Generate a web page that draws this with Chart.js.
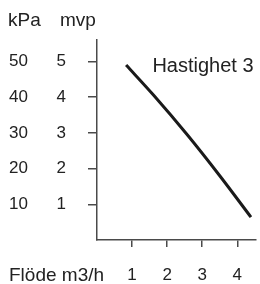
<!DOCTYPE html>
<html lang="sv">
<head>
    <meta charset="UTF-8">
    <title>Hastighet 3</title>
    <script src="https://cdn.jsdelivr.net/npm/chart.js"></script>
    <style>
        body {
            margin: 0;
            padding: 0;
            background: #fff;
        }

        .chart-box {
            width: 260px;
            height: 284px;
        }
    </style>
</head>
<body>
    <div class="chart-box">
        <canvas id="pumpChart"></canvas>
    </div>

    <script>
        // pump curve
        const flow = [0.83, 1.61, 2.58, 3.5, 4.39];          // m3/h
        const head = [4.90, 4.06, 2.94, 1.80, 0.64];         // mvp
        const flowTicks = [1, 2, 3, 4];
        const mvpTicks = [1, 2, 3, 4, 5];
        const kpaTicks = [10, 20, 30, 40, 50];
        const curveLabel = 'Hastighet 3';

        const FONT = "'Liberation Sans', Arial, sans-serif";
        const TEXT = '#222';
        const AXIS = '#4a4a4a';

        const points = flow.map((x, i) => ({ x: x, y: head[i] }));

        // headers, x-axis caption and the curve label
        const textPlugin = {
            id: 'texts',
            afterDraw(chart) {
                const c = chart.ctx;
                const xs = chart.scales.x;
                const ys = chart.scales.y;
                c.save();
                c.fillStyle = TEXT;
                c.textBaseline = 'middle';
                c.textAlign = 'left';
                c.font = '19px ' + FONT;
                c.fillText('kPa', 8, 21);
                c.fillText('mvp', 60, 21);
                c.fillText('Flöde m3/h', 9, 276);
                c.font = '20px ' + FONT;
                c.fillText(curveLabel, xs.getPixelForValue(1.58), ys.getPixelForValue(4.86));
                c.restore();
            }
        };

        const ctx = document.getElementById('pumpChart').getContext('2d');
        new Chart(ctx, {
            type: 'scatter',
            data: {
                datasets: [{
                    data: points,
                    showLine: true,
                    cubicInterpolationMode: 'monotone',
                    borderColor: '#1a1a1a',
                    borderWidth: 3,
                    pointRadius: 0,
                    fill: false
                }]
            },
            options: {
                responsive: true,
                maintainAspectRatio: false,
                animation: false,
                layout: { padding: { top: 40, right: 0, left: 0, bottom: 0 } },
                plugins: {
                    legend: { display: false },
                    tooltip: { enabled: false }
                },
                scales: {
                    x: {
                        type: 'linear',
                        min: 0,
                        max: 4.53,
                        afterBuildTicks: s => { s.ticks = flowTicks.map(v => ({ value: v })); },
                        afterFit: s => { s.height = 44; },
                        grid: { drawOnChartArea: false, tickLength: 7, color: AXIS, lineWidth: 1.5 },
                        border: { color: AXIS, width: 1.5 },
                        ticks: { font: { family: FONT, size: 17 }, color: TEXT, padding: 18, maxRotation: 0 }
                    },
                    y: {
                        type: 'linear',
                        position: 'left',
                        weight: 0,
                        min: 0,
                        max: 5.6,
                        afterBuildTicks: s => { s.ticks = mvpTicks.map(v => ({ value: v })); },
                        afterFit: s => { s.width = 67; },
                        grid: { drawOnChartArea: false, tickLength: 9, color: AXIS, lineWidth: 1.5 },
                        border: { color: AXIS, width: 1.5 },
                        ticks: { font: { family: FONT, size: 17 }, color: TEXT, padding: 22 }
                    },
                    kpa: {
                        type: 'linear',
                        position: 'left',
                        weight: 1,
                        min: 0,
                        max: 56,
                        afterBuildTicks: s => { s.ticks = kpaTicks.map(v => ({ value: v })); },
                        afterFit: s => { s.width = 30; },
                        grid: { display: false, drawTicks: false },
                        border: { display: false },
                        ticks: { font: { family: FONT, size: 17 }, color: TEXT, padding: 2 }
                    }
                }
            },
            plugins: [textPlugin]
        });
    </script>
</body>
</html>
